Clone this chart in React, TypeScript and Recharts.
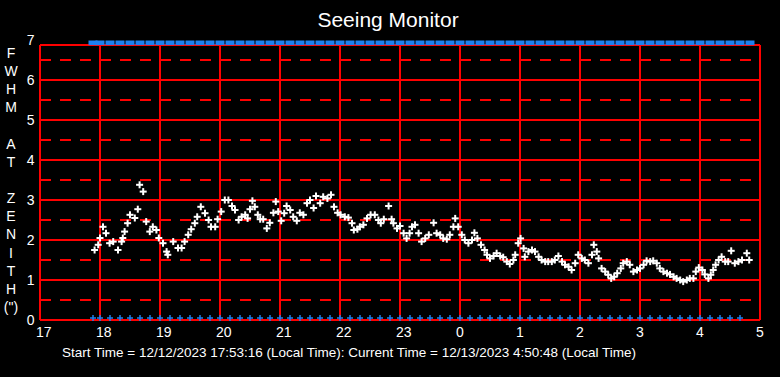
import React from 'react';
import { ScatterChart, Scatter, XAxis, YAxis, ReferenceLine } from 'recharts';

// hour of night (past midnight = 24+), FWHM in arcsec
const seeingSamples: [number, number][] = [
  [17.91, 1.75], [17.97, 1.88], [18.0, 2.05], [18.05, 2.33], [18.1, 2.17], [18.16, 1.92], [18.22, 1.96], [18.3, 1.75],
  [18.36, 1.96], [18.38, 2.05], [18.41, 2.21], [18.46, 2.42], [18.5, 2.63], [18.58, 2.55], [18.63, 2.77], [18.66, 3.38],
  [18.72, 3.21], [18.77, 2.46], [18.83, 2.21], [18.88, 2.33], [18.94, 2.25], [18.98, 2.05], [19.05, 1.92], [19.11, 1.71],
  [19.13, 1.63], [19.22, 1.96], [19.3, 1.8], [19.36, 1.8], [19.41, 1.96], [19.47, 2.13], [19.52, 2.27], [19.58, 2.42],
  [19.62, 2.58], [19.68, 2.83], [19.75, 2.67], [19.81, 2.5], [19.85, 2.33], [19.92, 2.33], [19.96, 2.52], [20.02, 2.71],
  [20.08, 3.0], [20.14, 3.0], [20.2, 2.85], [20.25, 2.75], [20.31, 2.5], [20.36, 2.58], [20.42, 2.63], [20.46, 2.54],
  [20.5, 2.77], [20.54, 2.98], [20.58, 2.83], [20.63, 2.63], [20.67, 2.52], [20.72, 2.52], [20.78, 2.29], [20.83, 2.43],
  [20.89, 2.68], [20.93, 2.96], [20.97, 2.71], [21.02, 2.48], [21.07, 2.67], [21.11, 2.85], [21.17, 2.75], [21.22, 2.58],
  [21.28, 2.48], [21.33, 2.68], [21.39, 2.63], [21.45, 2.92], [21.5, 3.0], [21.56, 2.8], [21.6, 3.1], [21.67, 2.92],
  [21.72, 3.08], [21.79, 3.04], [21.85, 3.13], [21.9, 2.83], [21.96, 2.68], [22.01, 2.63], [22.08, 2.58], [22.14, 2.56],
  [22.2, 2.42], [22.23, 2.25], [22.29, 2.27], [22.33, 2.33], [22.39, 2.38], [22.45, 2.54], [22.51, 2.63], [22.58, 2.63],
  [22.64, 2.5], [22.68, 2.42], [22.73, 2.52], [22.81, 2.85], [22.86, 2.52], [22.89, 2.42], [22.95, 2.29], [23.0, 2.35],
  [23.06, 2.17], [23.11, 2.04], [23.16, 2.17], [23.2, 2.33], [23.25, 2.38], [23.31, 2.17], [23.36, 1.96], [23.42, 2.04],
  [23.48, 2.13], [23.56, 2.43], [23.61, 2.17], [23.67, 2.13], [23.72, 2.04], [23.78, 2.02], [23.83, 2.13], [23.89, 2.33],
  [23.92, 2.54], [23.97, 2.33], [24.03, 2.13], [24.08, 2.0], [24.14, 1.92], [24.2, 2.0], [24.24, 2.18], [24.29, 2.04],
  [24.35, 1.88], [24.41, 1.75], [24.45, 1.63], [24.5, 1.54], [24.56, 1.6], [24.61, 1.67], [24.67, 1.6], [24.72, 1.57],
  [24.78, 1.46], [24.83, 1.4], [24.89, 1.5], [24.92, 1.63], [24.97, 1.92], [25.01, 2.04], [25.06, 1.79], [25.08, 1.58],
  [25.14, 1.71], [25.2, 1.75], [25.25, 1.71], [25.31, 1.58], [25.36, 1.5], [25.42, 1.46], [25.47, 1.46], [25.53, 1.46],
  [25.58, 1.5], [25.64, 1.6], [25.7, 1.46], [25.75, 1.38], [25.81, 1.33], [25.86, 1.25], [25.92, 1.42], [25.97, 1.63],
  [26.03, 1.54], [26.08, 1.5], [26.14, 1.42], [26.2, 1.63], [26.23, 1.88], [26.28, 1.71], [26.31, 1.54], [26.36, 1.29],
  [26.42, 1.21], [26.47, 1.13], [26.52, 1.04], [26.57, 1.08], [26.62, 1.17], [26.68, 1.29], [26.72, 1.42], [26.78, 1.46],
  [26.83, 1.38], [26.89, 1.21], [26.95, 1.25], [27.0, 1.29], [27.06, 1.38], [27.11, 1.48], [27.17, 1.46], [27.22, 1.48],
  [27.28, 1.42], [27.33, 1.29], [27.39, 1.21], [27.45, 1.17], [27.5, 1.14], [27.56, 1.08], [27.61, 1.04], [27.67, 1.0],
  [27.72, 0.96], [27.78, 1.0], [27.83, 1.04], [27.89, 1.04], [27.93, 1.21], [27.98, 1.31], [28.04, 1.25], [28.08, 1.14],
  [28.14, 1.04], [28.18, 1.13], [28.22, 1.25], [28.26, 1.38], [28.31, 1.5], [28.36, 1.58], [28.42, 1.46], [28.47, 1.46],
  [28.52, 1.73], [28.58, 1.42], [28.64, 1.46], [28.7, 1.5], [28.78, 1.67], [28.82, 1.5],
];

// times of the blue status markers
const statusTimes = [
  '17:53', '18:00', '18:10', '18:20', '18:30', '18:40', '18:50',
  '19:00', '19:10', '19:20', '19:30', '19:40', '19:50',
  '20:00', '20:10', '20:20', '20:30', '20:40', '20:50',
  '21:00', '21:10', '21:20', '21:30', '21:40', '21:50',
  '22:00', '22:10', '22:20', '22:30', '22:40', '22:50',
  '23:00', '23:10', '23:20', '23:30', '23:40', '23:50',
  '0:00', '0:10', '0:20', '0:30', '0:40', '0:50',
  '1:00', '1:10', '1:20', '1:30', '1:40', '1:50',
  '2:00', '2:10', '2:20', '2:30', '2:40', '2:50',
  '3:00', '3:10', '3:20', '3:30', '3:40', '3:50',
  '4:00', '4:10', '4:20', '4:30', '4:40',
];
const topBandTimes = [...statusTimes, '4:50'];

const xTicks = [17, 18, 19, 20, 21, 22, 23, 24, 25, 26, 27, 28, 29];
const yTicks = [0, 1, 2, 3, 4, 5, 6, 7];
const solidY = [1, 2, 3, 4, 5, 6];
const dashedY = [0.5, 1.5, 2.5, 3.5, 4.5, 5.5, 6.5];
const solidX = [18, 19, 20, 21, 22, 23, 24, 25, 26, 27, 28];
const yLabelLetters = ['F', 'W', 'H', 'M', '', 'A', 'T', '', 'Z', 'E', 'N', 'I', 'T', 'H', '(")'];

const PLOT_TOP = 6.875;
const RED = '#ff0000';
const BLUE = '#1e80f0';
const FONT = '"Liberation Sans", Arial, sans-serif';

const toHour = (t: string) => {
  const [h, m] = t.split(':').map(Number);
  return (h < 12 ? h + 24 : h) + m / 60;
};

const seeingData = seeingSamples.map(([x, y]) => ({ x, y }));
const bottomData = statusTimes.map((t) => ({ x: toHour(t), y: 0.05 }));
const topData = topBandTimes.map((t) => ({ x: toHour(t), y: 6.93 }));

const WhitePlus = ({ cx, cy }: any) => (
  <g fill="#ffffff">
    <rect x={cx - 3.5} y={cy - 1} width={7} height={2} />
    <rect x={cx - 1} y={cy - 3.5} width={2} height={7} />
  </g>
);

const BluePlus = ({ cx, cy }: any) => (
  <g fill={BLUE}>
    <rect x={cx - 3} y={cy - 0.75} width={6} height={1.5} />
    <rect x={cx - 0.75} y={cy - 3} width={1.5} height={6} />
  </g>
);

const BlueBox = ({ cx, cy }: any) => (
  <rect x={cx - 4.5} y={cy - 2.3} width={9} height={4.6} fill={BLUE} />
);

const XTick = ({ x, y, payload }: any) => (
  <text x={x - 4} y={y + 9} fill="#ffffff" fontSize={14} fontFamily={FONT} textAnchor="start">
    {payload.value % 24}
  </text>
);

const YTick = ({ x, y, payload }: any) => (
  <text x={x + 5.5} y={y + 5} fill="#ffffff" fontSize={14} fontFamily={FONT} textAnchor="end">
    {payload.value}
  </text>
);

export default function App() {
  return (
    <div style={{ position: 'absolute', left: 0, top: 0, width: 780, height: 377, background: '#000', overflow: 'hidden' }}>
      <div style={{ position: 'absolute', left: 0, width: 776, top: 8, textAlign: 'center', color: '#fff', fontFamily: FONT, fontSize: 21 }}>
        Seeing Monitor
      </div>
      <div style={{ position: 'absolute', left: 1, width: 20, top: 44, color: '#fff', fontFamily: FONT, fontSize: 14, lineHeight: '18.15px', textAlign: 'center' }}>
        {yLabelLetters.map((c, i) => (
          <div key={i} style={{ height: 18.15 }}>{c}</div>
        ))}
      </div>
      <ScatterChart width={780} height={377} margin={{ top: 40, right: 20, bottom: 0, left: 0 }} style={{ position: 'absolute', left: 0, top: 0 }}>
        <XAxis type="number" dataKey="x" domain={[17, 29]} ticks={xTicks} height={57} axisLine={false} tickLine={false}
          tick={<XTick />} interval={0} />
        <YAxis type="number" dataKey="y" domain={[0, 7]} ticks={yTicks} width={40} axisLine={false} tickLine={false}
          tickMargin={5} tick={<YTick />} interval={0} />
        {dashedY.map((v) => (
          <ReferenceLine key={'d' + v} y={v} stroke={RED} strokeWidth={2} strokeDasharray="11 9" />
        ))}
        {solidY.map((v) => (
          <ReferenceLine key={'s' + v} y={v} stroke={RED} strokeWidth={2} />
        ))}
        {solidX.map((v) => (
          <ReferenceLine key={'x' + v} segment={[{ x: v, y: 0 }, { x: v, y: PLOT_TOP }]} stroke={RED} strokeWidth={2} />
        ))}
        <ReferenceLine segment={[{ x: 17, y: 0 }, { x: 17, y: PLOT_TOP }]} stroke={RED} strokeWidth={2} />
        <ReferenceLine segment={[{ x: 29, y: 0 }, { x: 29, y: PLOT_TOP }]} stroke={RED} strokeWidth={2} />
        <ReferenceLine y={0} stroke={RED} strokeWidth={2} />
        <ReferenceLine y={PLOT_TOP} stroke={RED} strokeWidth={2} />
        <Scatter data={topData} shape={<BlueBox />} isAnimationActive={false} />
        <Scatter data={bottomData} shape={<BluePlus />} isAnimationActive={false} />
        <Scatter data={seeingData} shape={<WhitePlus />} isAnimationActive={false} />
      </ScatterChart>
      <div style={{ position: 'absolute', left: 62, top: 345, color: '#fff', fontFamily: FONT, fontSize: 13.5, whiteSpace: 'pre' }}>
        {'Start Time = 12/12/2023 17:53:16 (Local Time): Current Time = 12/13/2023 4:50:48 (Local Time)'}
      </div>
    </div>
  );
}
